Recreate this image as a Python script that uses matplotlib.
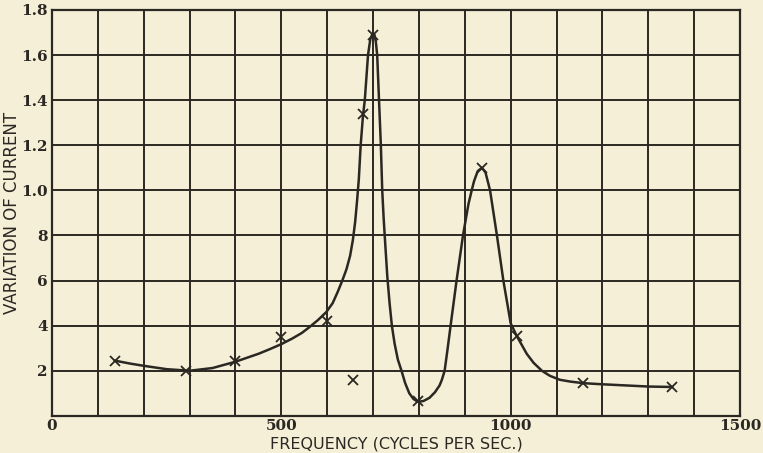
import matplotlib.pyplot as plt

# measured points (the "x" marks)
freq_pts = [137, 293, 400, 500, 600, 656, 678, 700, 797, 937, 1013, 1158, 1352]
curr_pts = [0.245, 0.198, 0.242, 0.35, 0.42, 0.16, 1.34, 1.69, 0.065, 1.10, 0.355, 0.145, 0.128]

# hand drawn curve
curve_f = [137, 170, 200, 250, 300, 350, 400, 450, 474, 500, 524, 545, 561, 580,
           598, 612, 623, 633, 642, 650, 656, 661, 665, 669, 673, 678, 682, 689,
           694, 698, 703, 706, 709, 713, 717, 720, 723, 726, 731, 736, 741, 747,
           754, 762, 770, 779, 788, 798, 810, 823, 835, 845, 850, 856, 862, 869,
           882, 896, 908, 915, 920, 928, 937, 945, 955, 970, 984, 1000, 1013,
           1035, 1050, 1068, 1085, 1107, 1130, 1158, 1200, 1250, 1300, 1352]
curve_c = [0.245, 0.232, 0.222, 0.207, 0.200, 0.212, 0.240, 0.275, 0.295, 0.318,
           0.343, 0.368, 0.393, 0.425, 0.46, 0.50, 0.55, 0.60, 0.65, 0.71, 0.78,
           0.86, 0.95, 1.05, 1.20, 1.33, 1.40, 1.60, 1.67, 1.69, 1.69, 1.66, 1.60,
           1.40, 1.20, 1.00, 0.88, 0.78, 0.62, 0.50, 0.40, 0.32, 0.25, 0.20, 0.145,
           0.10, 0.075, 0.062, 0.066, 0.08, 0.105, 0.135, 0.16, 0.20, 0.29, 0.40,
           0.60, 0.80, 0.94, 1.00, 1.04, 1.085, 1.10, 1.08, 1.00, 0.80, 0.60, 0.41,
           0.355, 0.275, 0.235, 0.20, 0.178, 0.16, 0.152, 0.145, 0.14, 0.135,
           0.13, 0.128]

x_ticks = [0, 500, 1000, 1500]
x_labels = ['0', '500', '1000', '1500']
y_ticks = [0.2, 0.4, 0.6, 0.8, 1.0, 1.2, 1.4, 1.6, 1.8]
y_labels = ['2', '4', '6', '8', '1.0', '1.2', '1.4', '1.6', '1.8']

paper = '#f4efd6'
ink = '#2b2722'

fig = plt.figure(figsize=(7.63, 4.53), dpi=100, facecolor=paper)
ax = fig.add_axes([0.068, 0.082, 0.902, 0.896], facecolor=paper)

for gx in range(100, 1500, 100):
    ax.axvline(gx, color=ink, lw=1.4, zorder=1)
for gy in [0.2, 0.4, 0.6, 0.8, 1.0, 1.2, 1.4, 1.6]:
    ax.axhline(gy, color=ink, lw=1.4, zorder=1)

ax.plot(curve_f, curve_c, color=ink, lw=1.8, zorder=3,
        solid_joinstyle='round', solid_capstyle='round')
ax.plot(freq_pts, curr_pts, 'x', color=ink, ms=7, mew=1.3, zorder=4)

ax.set_xlim(0, 1500)
ax.set_ylim(0, 1.8)
for s in ax.spines.values():
    s.set_color(ink)
    s.set_linewidth(1.6)

ax.set_xticks(x_ticks)
ax.set_xticklabels(x_labels, family='DejaVu Serif', fontweight='bold', fontsize=11, color=ink)
ax.set_yticks(y_ticks)
ax.set_yticklabels(y_labels, family='DejaVu Serif', fontweight='bold', fontsize=11, color=ink)
ax.tick_params(axis='x', length=0, pad=2)
ax.tick_params(axis='y', length=0, pad=3)

ax.set_xlabel('FREQUENCY (CYCLES PER SEC.)', fontsize=11.5, color=ink)
ax.set_ylabel('VARIATION OF CURRENT', fontsize=12, color=ink)
ax.xaxis.set_label_coords(0.5, -0.051)
ax.yaxis.set_label_coords(-0.045, 0.5)

fig.savefig('out.png', dpi=100, facecolor=paper)
